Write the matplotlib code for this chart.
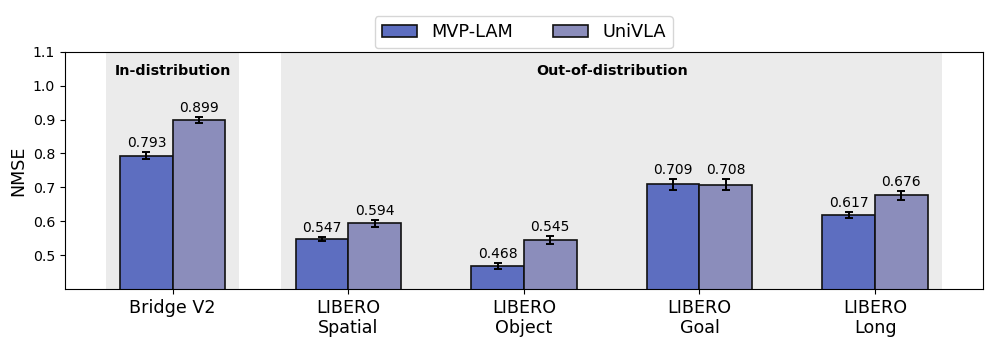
import matplotlib.pyplot as plt
import numpy as np

# data
datasets = ["Bridge V2", "LIBERO\nSpatial", "LIBERO\nObject", "LIBERO\nGoal", "LIBERO\nLong"]
mvp_lam = [0.793, 0.547, 0.468, 0.709, 0.617]
mvp_err = [0.010, 0.005, 0.008, 0.016, 0.009]
univla = [0.899, 0.594, 0.545, 0.708, 0.676]
univla_err = [0.008, 0.010, 0.012, 0.016, 0.013]

x = np.arange(len(datasets))
w = 0.3

fig, ax = plt.subplots(figsize=(9.96, 3.46), dpi=100)
fig.subplots_adjust(left=0.065, right=0.987, top=0.85, bottom=0.165)

# shaded regions
ax.axvspan(-0.38, 0.38, color="#ebebeb", zorder=0, lw=0)
ax.axvspan(0.615, 4.38, color="#ebebeb", zorder=0, lw=0)
ax.text(0, 1.044, "In-distribution", ha="center", va="center", fontsize=10.3, fontweight="bold")
ax.text(2.5, 1.044, "Out-of-distribution", ha="center", va="center", fontsize=10.3, fontweight="bold")

err_kw = dict(ecolor="black", capsize=3, elinewidth=1.4, capthick=1.4)
b1 = ax.bar(x - w / 2, mvp_lam, w, yerr=mvp_err, color="#5d6ec0", edgecolor="#111111",
            linewidth=1.2, label="MVP-LAM", error_kw=err_kw, zorder=2)
b2 = ax.bar(x + w / 2, univla, w, yerr=univla_err, color="#8b8dbb", edgecolor="#111111",
            linewidth=1.2, label="UniVLA", error_kw=err_kw, zorder=2)

for bars, vals, errs in [(b1, mvp_lam, mvp_err), (b2, univla, univla_err)]:
    for b, v, e in zip(bars, vals, errs):
        ax.annotate(f"{v:.3f}", (b.get_x() + b.get_width() / 2, v + e),
                    xytext=(0, 1.5), textcoords="offset points",
                    ha="center", va="bottom", fontsize=10)

ax.set_xlim(-0.615, 4.615)
ax.set_ylim(0.4, 1.1)
ax.set_yticks([0.5, 0.6, 0.7, 0.8, 0.9, 1.0, 1.1])
ax.set_xticks(x)
ax.set_xticklabels(datasets, fontsize=12.6)
ax.tick_params(axis="y", labelsize=10.2)
ax.set_ylabel("NMSE", fontsize=12.6)

ax.legend(loc="lower center", bbox_to_anchor=(0.5, 1.0), ncol=2, fontsize=12.8,
          columnspacing=2.2, borderaxespad=0.2)

fig.savefig("out.png", dpi=100)
